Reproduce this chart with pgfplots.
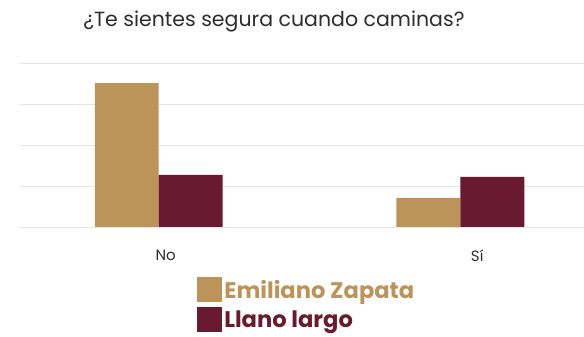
\documentclass[border=0pt]{standalone}
\usepackage{pgfplots}
\pgfplotsset{compat=1.18}
\usepackage{fontspec}
\setmainfont{Poppins}
\definecolor{gold}{RGB}{188,148,90}
\definecolor{maroon}{RGB}{106,26,48}
\definecolor{gridc}{RGB}{230,230,230}
\definecolor{txt}{RGB}{45,45,45}
\begin{document}
\begin{tikzpicture}[x=1pt,y=1pt]
\path[use as bounding box] (0,0) rectangle (584,337);
\node[text=txt,font=\fontsize{20.5}{22}\selectfont] at (274,316) {¿Te sientes segura cuando caminas?};
\begin{axis}[
  at={(20pt,110pt)}, anchor=south west,
  scale only axis, width=564pt, height=164pt,
  xmin=-0.46, xmax=1.41, ymin=0, ymax=40,
  ybar=0pt, bar width=0.212,
  axis line style={draw=none},
  ytick={0,10,20,30,40}, yticklabels={},
  ymajorgrids, grid style={gridc, line width=0.8pt},
  major tick length=0pt,
  xtick={0.023,1.056}, xticklabels={No,Sí},
  xticklabel style={text=txt, font=\fontsize{15}{17}\selectfont, yshift=-19pt},
  legend style={at={(0.314,-0.305)}, anchor=north west, draw=none, fill=none,
    inner sep=0pt, row sep=5pt, font=\fontsize{22.6}{24}\selectfont\bfseries,
    cells={anchor=west, xshift=4pt}},
  legend image code/.code={\fill[#1] (0pt,-12.5pt) rectangle (25pt,12.5pt);},
  legend cell align=left,
]
\addplot[fill=gold, draw=none] coordinates {(0,35.1) (1,7.1)};
\addplot[fill=maroon, draw=none] coordinates {(0,12.7) (1,12.2)};
\legend{\textcolor{gold}{Emiliano Zapata},\textcolor{maroon}{Llano largo}}
\end{axis}
\end{tikzpicture}
\end{document}
